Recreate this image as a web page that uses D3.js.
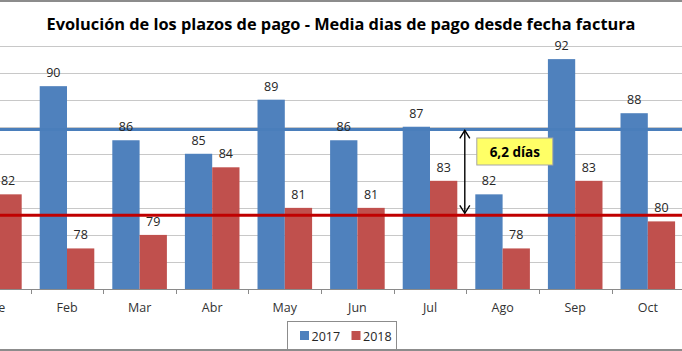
<!DOCTYPE html>
<html>
<head>
<meta charset="utf-8">
<script src="https://cdn.jsdelivr.net/npm/d3@7"></script>
<style>
  html, body { margin: 0; padding: 0; background: #fff; }
  svg { display: block; }
  text { font-family: "Open Sans", "Liberation Sans", sans-serif; }
</style>
</head>
<body>
<script>
const months = ["Ene", "Feb", "Mar", "Abr", "May", "Jun", "Jul", "Ago", "Sep", "Oct"];
const series = ["2017", "2018"];
const values2017 = [84, 90, 86, 85, 89, 86, 87, 82, 92, 88];
const values2018 = [82, 78, 79, 84, 81, 81, 83, 78, 83, 80];
const averages = [86.8, 80.45];
const yTicks = [75, 77, 79, 81, 83, 85, 87, 89, 91, 93];
const title = "Evolución de los plazos de pago - Media dias de pago desde fecha factura";
const diffLabel = "6,2 días";

const W = 682, H = 351;
const colors = { "2017": "#4F81BD", "2018": "#C0504D" };
const avgColors = ["#4A7EBB", "#C00000"];

const svg = d3.select("body").append("svg").attr("width", W).attr("height", H);

// chart border (top & bottom visible)
svg.append("line").attr("x1", 0).attr("x2", W).attr("y1", 1).attr("y2", 1)
  .attr("stroke", "#8c8c8c").attr("stroke-width", 2);
svg.append("line").attr("x1", 0).attr("x2", W).attr("y1", 350).attr("y2", 350)
  .attr("stroke", "#8c8c8c").attr("stroke-width", 2);

// title
svg.append("text").attr("x", W / 2).attr("y", 29.5).attr("text-anchor", "middle")
  .attr("font-size", 16).attr("font-weight", "bold").attr("fill", "#000")
  .attr("textLength", 589).attr("lengthAdjust", "spacingAndGlyphs")
  .text(title);

const x = d3.scaleBand().domain(months).range([-41.9, 684.1]).padding(0);
const xs = d3.scaleBand().domain(series).range([0, x.bandwidth()]).paddingInner(0).paddingOuter(0.33);
const y = d3.scaleLinear().domain([75, 93]).range([289, 45.6]);

// gridlines
svg.append("g").selectAll("line").data(yTicks.slice(1)).join("line")
  .attr("x1", 0).attr("x2", W)
  .attr("y1", d => Math.round(y(d)) + 0.5).attr("y2", d => Math.round(y(d)) + 0.5)
  .attr("stroke", "#c8c8c8").attr("stroke-width", 1);

// bars
const rows = months.map((m, i) => ({ m, v: { "2017": values2017[i], "2018": values2018[i] } }));
const gBars = svg.append("g");
rows.forEach(r => {
  series.forEach(s => {
    gBars.append("rect")
      .attr("x", x(r.m) + xs(s)).attr("width", xs.bandwidth())
      .attr("y", y(r.v[s])).attr("height", y(75) - y(r.v[s]))
      .attr("fill", colors[s]);
  });
});

// x axis line & ticks
svg.append("line").attr("x1", 0).attr("x2", W).attr("y1", 289.5).attr("y2", 289.5)
  .attr("stroke", "#8a8a8a").attr("stroke-width", 1);
const bounds = months.map(m => x(m)).concat([x(months[months.length - 1]) + x.bandwidth()]);
svg.append("g").selectAll("line").data(bounds).join("line")
  .attr("x1", d => Math.round(d) + 0.5).attr("x2", d => Math.round(d) + 0.5)
  .attr("y1", 289).attr("y2", 294).attr("stroke", "#8a8a8a");

// month labels
svg.append("g").selectAll("text").data(months).join("text")
  .attr("x", d => x(d) + x.bandwidth() / 2).attr("y", 312)
  .attr("text-anchor", "middle").attr("font-size", 12.5).attr("fill", "#333")
  .text(d => d);

// average lines
averages.forEach((a, i) => {
  svg.append("line").attr("x1", 0).attr("x2", W).attr("y1", y(a)).attr("y2", y(a))
    .attr("stroke", avgColors[i]).attr("stroke-width", 3);
});

// data labels
rows.forEach(r => {
  series.forEach(s => {
    svg.append("text")
      .attr("x", x(r.m) + xs(s) + xs.bandwidth() / 2)
      .attr("y", y(r.v[s]) - 9)
      .attr("text-anchor", "middle").attr("font-size", 12.5).attr("fill", "#262626")
      .text(r.v[s]);
  });
});

// double-headed arrow
const ax = x("Ago") - 1.5;
const y1 = y(averages[0]) + 1, y2 = y(averages[1]) - 2;
const arrow = svg.append("g").attr("stroke", "#000").attr("stroke-width", 1.4).attr("fill", "none");
arrow.append("line").attr("x1", ax).attr("x2", ax).attr("y1", y1).attr("y2", y2);
arrow.append("path").attr("d", `M${ax - 5},${y1 + 8} L${ax},${y1} L${ax + 5},${y1 + 8}`);
arrow.append("path").attr("d", `M${ax - 5},${y2 - 8} L${ax},${y2} L${ax + 5},${y2 - 8}`);

// yellow annotation box
const bx = x("Ago") + 10.5;
svg.append("rect").attr("x", bx).attr("y", 138).attr("width", 76).attr("height", 27)
  .attr("fill", "#FFFF66").attr("stroke", "#a6a6a6").attr("stroke-width", 1);
svg.append("text").attr("x", bx + 38).attr("y", 157).attr("text-anchor", "middle")
  .attr("font-size", 13.5).attr("font-weight", "bold").attr("fill", "#000")
  .text(diffLabel);

// legend
const lg = svg.append("g");
lg.append("rect").attr("x", 287.5).attr("y", 321.5).attr("width", 109).attr("height", 28)
  .attr("fill", "#fff").attr("stroke", "#8c8c8c");
series.forEach((s, i) => {
  const lx = 300 + i * 51.5;
  lg.append("rect").attr("x", lx).attr("y", 331).attr("width", 9).attr("height", 9).attr("fill", colors[s]);
  lg.append("text").attr("x", lx + 11.5).attr("y", 340.5).attr("font-size", 12.5).attr("fill", "#262626").text(s);
});
</script>
</body>
</html>
